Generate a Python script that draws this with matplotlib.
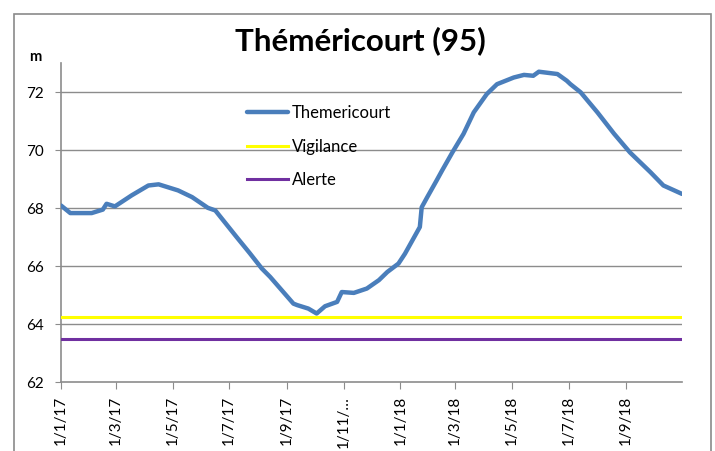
import matplotlib
matplotlib.use('Agg')
import matplotlib.pyplot as plt
from matplotlib.patches import Rectangle
import numpy as np

plt.rcParams['font.family'] = ['Lato', 'DejaVu Sans']

# niveau piezometrique
dates = ['2017-01-01', '2017-01-11', '2017-02-03', '2017-02-15', '2017-02-19',
         '2017-02-28', '2017-03-18', '2017-04-05', '2017-04-16', '2017-05-07',
         '2017-05-22', '2017-06-08', '2017-06-16', '2017-07-09', '2017-07-23',
         '2017-08-05', '2017-08-14', '2017-09-08', '2017-09-12', '2017-09-24',
         '2017-10-03', '2017-10-12', '2017-10-25', '2017-10-30', '2017-11-12',
         '2017-11-26', '2017-12-09', '2017-12-18', '2017-12-30', '2018-01-06',
         '2018-01-22', '2018-01-24', '2018-01-30', '2018-02-09', '2018-02-15',
         '2018-02-26', '2018-03-10', '2018-03-21', '2018-04-04', '2018-04-15',
         '2018-05-03', '2018-05-14', '2018-05-24', '2018-05-30', '2018-06-19',
         '2018-06-29', '2018-07-03', '2018-07-14', '2018-08-01', '2018-08-19',
         '2018-09-05', '2018-09-27', '2018-10-11', '2018-10-31']
niveau = [68.09, 67.83, 67.83, 67.95, 68.15, 68.06, 68.44, 68.78, 68.82, 68.61,
          68.38, 68.01, 67.92, 67.00, 66.45, 65.92, 65.63, 64.71, 64.66, 64.54,
          64.37, 64.62, 64.77, 65.11, 65.08, 65.23, 65.52, 65.80, 66.09, 66.43,
          67.35, 68.03, 68.38, 68.95, 69.30, 69.92, 70.56, 71.30, 71.93, 72.27,
          72.50, 72.59, 72.56, 72.70, 72.62, 72.39, 72.27, 71.99, 71.30, 70.56,
          69.92, 69.24, 68.78, 68.49]
vigilance = 64.25
alerte = 63.5

tick_dates = ['2017-01-01', '2017-03-01', '2017-05-01', '2017-07-01', '2017-09-01',
              '2017-11-01', '2018-01-01', '2018-03-01', '2018-05-01', '2018-07-01',
              '2018-09-01']
tick_labels = ['1/1/17', '1/3/17', '1/5/17', '1/7/17', '1/9/17', '1/11/\u2026',
               '1/1/18', '1/3/18', '1/5/18', '1/7/18', '1/9/18']

x = np.array(dates, dtype='datetime64[D]')
x0 = np.datetime64('2017-01-01')
x1 = np.datetime64('2018-10-31')

fig = plt.figure(figsize=(7.15, 4.51), dpi=100)
ax = fig.add_axes([61/715, 1-382.3/451, 621/715, (382.3-63)/451])

# cadre exterieur du graphique
fig.patches.append(Rectangle((14/715, -0.1), 697/715, 1.1-14/451, transform=fig.transFigure,
                             fill=False, edgecolor='#8a8a8a', linewidth=1.2))

grid_col = '#8c8c8c'
for v in [64, 66, 68, 70, 72]:
    ax.axhline(v, color=grid_col, linewidth=1.0, zorder=1)

ax.plot(x, niveau, color='#4a7ebb', linewidth=3.2, label='Themericourt', zorder=4,
        solid_capstyle='round')
ax.plot([x0, x1], [vigilance, vigilance], color='#ffff00', linewidth=2.2, label='Vigilance', zorder=3)
ax.plot([x0, x1], [alerte, alerte], color='#7030a0', linewidth=2.2, label='Alerte', zorder=3)

ax.set_xlim(x0, x1)
ax.set_ylim(62, 73)
ax.set_yticks([62, 64, 66, 68, 70, 72])
ax.set_xticks(np.array(tick_dates, dtype='datetime64[D]'))
ax.set_xticklabels(tick_labels, rotation=90, fontsize=11)
ax.tick_params(axis='y', labelsize=11, length=4, color=grid_col, pad=8)
ax.tick_params(axis='x', length=5, color=grid_col, pad=5)

for s in ['top', 'right']:
    ax.spines[s].set_visible(False)
for s in ['left', 'bottom']:
    ax.spines[s].set_color(grid_col)
    ax.spines[s].set_linewidth(1.2)

fig.text(360/715, 1-41/451, 'Théméricourt (95)', ha='center', va='center',
         fontsize=22.5, fontweight='bold')
fig.text(35/715, 1-57/451, 'm', ha='center', va='center', fontsize=10.5, fontweight='bold')

leg = ax.legend(loc='upper left', bbox_to_anchor=(239/715, 1-97/451), bbox_transform=fig.transFigure,
                frameon=False, fontsize=12, handlelength=2.45, handletextpad=0.2,
                labelspacing=1.05, borderpad=0)

fig.savefig('out.png', dpi=100)
